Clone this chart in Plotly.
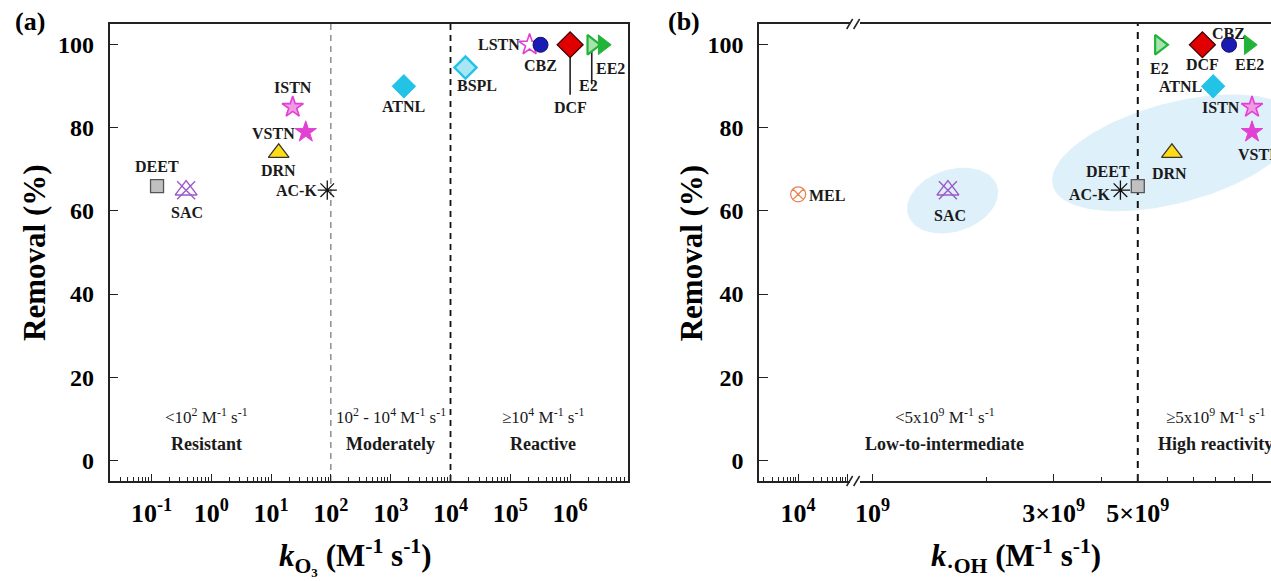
import numpy as np
import plotly.graph_objects as go

W, H = 1271, 581
FONT = "Liberation Serif"
INK = "#1a1a1a"

# ---------------- data ----------------
# panel (a): removal vs. second-order rate constant with ozone
a_names = ["DEET", "SAC", "DRN", "ISTN", "VSTN", "AC-K", "ATNL", "BSPL", "LSTN", "CBZ", "DCF", "E2", "EE2"]
a_k = [0.124, 0.38, 13.4, 23, 38, 87, 1.66e3, 1.78e4, 2.1e5, 3.2e5, 1.0e6, 2.3e6, 3.5e6]
a_removal = [66, 65, 74, 85, 79, 65, 90, 94.5, 100, 100, 100, 100, 100]

# panel (b): removal vs. second-order rate constant with hydroxyl radical
b_names = ["MEL", "SAC", "AC-K", "DEET", "DRN", "E2", "DCF", "CBZ", "EE2", "ATNL", "ISTN", "VSTN"]
b_k = [1.0e4, 1.58e9, 4.5e9, 5.0e9, 6.15e9, 5.7e9, 7.4e9, 8.7e9, 9.8e9, 7.9e9, 1.0e10, 1.0e10]
b_removal = [64, 65, 65, 66, 74, 100, 100, 100, 100, 90, 85, 79]

# reactivity class boundaries
a_bounds = [1e2, 1e4]
b_bounds = [5e9]

# tick labels
a_tickvals = [1e-1, 1e0, 1e1, 1e2, 1e3, 1e4, 1e5, 1e6]
a_ticktext = ["10<sup>-1</sup>", "10<sup>0</sup>", "10<sup>1</sup>", "10<sup>2</sup>",
              "10<sup>3</sup>", "10<sup>4</sup>", "10<sup>5</sup>", "10<sup>6</sup>"]
b1_tickvals = [1e4, 1e5]
b1_ticktext = ["10<sup>4</sup>", ""]
b2_tickvals = [1e9, 3e9, 5e9, 1e10]
b2_ticktext = ["10<sup>9</sup>", "3×10<sup>9</sup>", "5×10<sup>9</sup>", "10<sup>10</sup>"]
y_tickvals = [0, 20, 40, 60, 80, 100]

# class captions: (centre log10 k, upper line, lower line)
a_classes = [
    (-0.08, "&lt;10<sup>2</sup> M<sup>-1</sup> s<sup>-1</sup>", "Resistant"),
    (3.0, "10<sup>2</sup> - 10<sup>4</sup> M<sup>-1</sup> s<sup>-1</sup>", "Moderately"),
    (5.55, "≥10<sup>4</sup> M<sup>-1</sup> s<sup>-1</sup>", "Reactive"),
]
b_classes = [
    (9.19, "&lt;5x10<sup>9</sup> M<sup>-1</sup> s<sup>-1</sup>", "Low-to-intermediate"),
    (9.905, "≥5x10<sup>9</sup> M<sup>-1</sup> s<sup>-1</sup>", "High reactivity"),
]

# ---------------- marker styles ----------------
PURPLE = "#9b59c8"
MAGENTA = "#e23fd3"
CYAN = "#22c3e6"
GREEN = "#22b43a"
styles = {
    "DEET": [dict(symbol="square", size=13, color="#c0c0c0", line=dict(color="#555555", width=1.3))],
    "SAC": [dict(symbol="triangle-up-open", size=19, color=PURPLE, line=dict(color=PURPLE, width=1.4)),
            dict(symbol="x-thin-open", size=18, color=PURPLE, line=dict(color=PURPLE, width=1.4))],
    "DRN": [dict(symbol="triangle-up", size=18, color="#ffdc14", line=dict(color="#333333", width=1.2))],
    "ISTN": [dict(symbol="star", size=16, color="#f09ae6", line=dict(color=MAGENTA, width=1.6))],
    "VSTN": [dict(symbol="star", size=16, color=MAGENTA, line=dict(color=MAGENTA, width=1))],
    "LSTN": [dict(symbol="star-open", size=16, color=MAGENTA, line=dict(color=MAGENTA, width=1.6))],
    "AC-K": [dict(symbol="asterisk-open", size=16, color="#111111", line=dict(color="#111111", width=1.3))],
    "ATNL": [dict(symbol="diamond", size=18, color=CYAN, line=dict(color=CYAN, width=1))],
    "BSPL": [dict(symbol="diamond", size=17, color="#a9e6f5", line=dict(color=CYAN, width=2.4))],
    "CBZ": [dict(symbol="circle", size=15, color="#1a1ab4", line=dict(color="#10106a", width=1))],
    "DCF": [dict(symbol="diamond", size=20, color="#e00000", line=dict(color="#400000", width=1.2))],
    "E2": [dict(symbol="triangle-right", size=17, color="#a8e2ae", line=dict(color=GREEN, width=2.2))],
    "EE2": [dict(symbol="triangle-right", size=17, color=GREEN, line=dict(color=GREEN, width=1))],
    "MEL": [dict(symbol="circle-x-open", size=15, color="#e8834f", line=dict(color="#e8834f", width=1.3))],
}

# label placement: (xshift px, yshift px, xanchor)
a_label_pos = {
    "DEET": (0, 20, "center"), "SAC": (1, -22, "center"), "DRN": (0, -18, "center"),
    "ISTN": (0, 20, "center"), "VSTN": (-9, -1, "right"), "AC-K": (-8, 0, "right"),
    "ATNL": (0, -20, "center"), "BSPL": (12, -18, "center"), "LSTN": (-8, 0, "right"),
    "CBZ": (0, -21, "center"), "DCF": (0, -63, "center"), "E2": (-3, -41, "center"),
    "EE2": (8, -24, "center"),
}
b_label_pos = {
    "MEL": (9, -1, "left"), "SAC": (2, -25, "center"), "AC-K": (-8, -4, "right"),
    "DEET": (-30, 15, "center"), "DRN": (-2, -21, "center"), "E2": (0, -24, "center"),
    "DCF": (0, -20, "center"), "CBZ": (-1, 11, "center"), "EE2": (1, -20, "center"),
    "ATNL": (-9, 0, "right"), "ISTN": (-10, 0, "right"), "VSTN": (7, -22, "center"),
}
# leader lines under the crowded high-k markers in panel (a): (name, lower end of line)
a_leaders = [("DCF", 88), ("E2", 90.5)]

# highlight ellipses in panel (b): centre log10 k, centre removal, semi-axes (px), tilt (deg)
b_ellipses = [
    dict(cx=9.211, cy=62.5, a=47, b=31, tilt=18),
    dict(cx=9.797, cy=74.0, a=127, b=50, tilt=15),
]

# ---------------- geometry ----------------
A_X = (105, 625)
B1_X = (757, 848)
B2_X = (858, W)
Y_PIX = (24, 481)
Y_RANGE = [-5, 105]
A_RANGE = [-1.70, 6.96]
B1_RANGE = [3.21, 5.04]
B2_RANGE = [8.966, 10.05]


def xdom(p):
    return [p[0] / W, p[1] / W]


ydom = [(H - Y_PIX[1]) / H, (H - Y_PIX[0]) / H]
px_per_y = (Y_PIX[1] - Y_PIX[0]) / (Y_RANGE[1] - Y_RANGE[0])
px_per_dec_b2 = (B2_X[1] - B2_X[0]) / (B2_RANGE[1] - B2_RANGE[0])


def minor_vals(lo, hi):
    vals = []
    for e in range(int(np.floor(lo)) - 1, int(np.ceil(hi)) + 1):
        for m in range(2, 10):
            v = m * 10.0 ** e
            if lo <= np.log10(v) <= hi:
                vals.append(v)
    return vals


fig = go.Figure()

# ellipses (behind everything)
for e in b_ellipses:
    t = np.linspace(0, 2 * np.pi, 121)
    th = np.radians(e["tilt"])
    u, v = e["a"] * np.cos(t), e["b"] * np.sin(t)
    ur = u * np.cos(th) - v * np.sin(th)
    vr = u * np.sin(th) + v * np.cos(th)
    fig.add_trace(go.Scatter(
        x=10 ** (e["cx"] + ur / px_per_dec_b2), y=e["cy"] + vr / px_per_y,
        mode="lines", fill="toself", fillcolor="rgba(190,225,246,0.5)",
        line=dict(width=0), hoverinfo="skip", xaxis="x3", yaxis="y2"))

# class boundaries
for i, xb in enumerate(a_bounds):
    fig.add_trace(go.Scatter(
        x=[xb, xb], y=Y_RANGE, mode="lines",
        line=dict(color="#555555" if i == 0 else "#111111", width=1.0 if i == 0 else 1.8, dash="6px,5px"),
        hoverinfo="skip", xaxis="x", yaxis="y"))
for xb in b_bounds:
    fig.add_trace(go.Scatter(
        x=[xb, xb], y=Y_RANGE, mode="lines",
        line=dict(color="#111111", width=2.0, dash="7px,6px"),
        hoverinfo="skip", xaxis="x3", yaxis="y2"))

# leader lines
for name, y_end in a_leaders:
    i = a_names.index(name)
    fig.add_trace(go.Scatter(
        x=[a_k[i], a_k[i]], y=[a_removal[i], y_end], mode="lines",
        line=dict(color="#222222", width=1.6), hoverinfo="skip", xaxis="x", yaxis="y"))


def add_markers(names, ks, rem, xaxis, yaxis):
    for n, k, r in zip(names, ks, rem):
        for st in styles[n]:
            fig.add_trace(go.Scatter(
                x=[k], y=[r], mode="markers", marker=st, name=n,
                xaxis=xaxis, yaxis=yaxis, cliponaxis=False))


add_markers(a_names, a_k, a_removal, "x", "y")
b_seg2 = [i for i, k in enumerate(b_k) if k >= 1e8]
b_seg1 = [i for i, k in enumerate(b_k) if k < 1e8]
add_markers([b_names[i] for i in b_seg1], [b_k[i] for i in b_seg1], [b_removal[i] for i in b_seg1], "x2", "y2")
add_markers([b_names[i] for i in b_seg2], [b_k[i] for i in b_seg2], [b_removal[i] for i in b_seg2], "x3", "y2")

annotations = []
label_font = dict(family=FONT, size=16, color=INK, weight="bold")


def add_labels(names, ks, rem, pos, xref, yref):
    for n, k, r in zip(names, ks, rem):
        dx, dy, anc = pos[n]
        annotations.append(dict(
            x=np.log10(k), y=r, xref=xref, yref=yref, text=n, showarrow=False,
            xshift=dx, yshift=dy, xanchor=anc, yanchor="middle", font=label_font))


add_labels(a_names, a_k, a_removal, a_label_pos, "x", "y")
add_labels([b_names[i] for i in b_seg1], [b_k[i] for i in b_seg1], [b_removal[i] for i in b_seg1],
           b_label_pos, "x2", "y2")
add_labels([b_names[i] for i in b_seg2], [b_k[i] for i in b_seg2], [b_removal[i] for i in b_seg2],
           b_label_pos, "x3", "y2")

# class captions
for classes, xref in ((a_classes, "x"), (b_classes, "x3")):
    for cx, top, bottom in classes:
        annotations.append(dict(x=cx, y=10.6, xref=xref, yref="y" if xref == "x" else "y2",
                                text=top, showarrow=False, yanchor="middle",
                                font=dict(family=FONT, size=17, color=INK)))
        annotations.append(dict(x=cx, y=3.8, xref=xref, yref="y" if xref == "x" else "y2",
                                text=bottom, showarrow=False, yanchor="middle",
                                font=dict(family=FONT, size=18, color=INK, weight="bold")))

# panel letters and axis titles
title_font = dict(family=FONT, size=31, color="#000000", weight="bold")
annotations += [
    dict(x=8 / W, y=1 - 22 / H, xref="paper", yref="paper", text="(a)", showarrow=False,
         xanchor="left", yanchor="middle", font=dict(family=FONT, size=26, color="#000", weight="bold")),
    dict(x=664 / W, y=1 - 22 / H, xref="paper", yref="paper", text="(b)", showarrow=False,
         xanchor="left", yanchor="middle", font=dict(family=FONT, size=26, color="#000", weight="bold")),
    dict(x=352 / W, y=1 - 556 / H, xref="paper", yref="paper",
         text="<i>k</i><sub>O₃</sub> (M<sup>-1</sup> s<sup>-1</sup>)", showarrow=False,
         xanchor="center", yanchor="middle", font=title_font),
    dict(x=1015 / W, y=1 - 556 / H, xref="paper", yref="paper",
         text="<i>k</i><sub>·OH</sub> (M<sup>-1</sup> s<sup>-1</sup>)", showarrow=False,
         xanchor="center", yanchor="middle", font=title_font),
    dict(x=30 / W, y=1 - 253 / H, xref="paper", yref="paper", text="Removal (%)", textangle=-90,
         showarrow=False, xanchor="center", yanchor="middle", font=title_font),
    dict(x=690 / W, y=1 - 253 / H, xref="paper", yref="paper", text="Removal (%)", textangle=-90,
         showarrow=False, xanchor="center", yanchor="middle", font=title_font),
]

# axis-break marks on the bottom and top edges of panel (b)
shapes = []
for yp in (Y_PIX[1], Y_PIX[0]):
    for x0 in (845, 852):
        shapes.append(dict(type="line", xref="paper", yref="paper",
                           x0=x0 / W, x1=(x0 + 6) / W, y0=1 - (yp + 5) / H, y1=1 - (yp - 5) / H,
                           line=dict(color="#222222", width=1.5)))

tickfont_x = dict(family=FONT, size=26, color="#000000", weight="bold")
tickfont_y = dict(family=FONT, size=24, color="#000000", weight="bold")
axis_common = dict(showline=True, linecolor="#222222", linewidth=1.5, showgrid=False,
                   zeroline=False, ticks="inside", tickcolor="#222222", tickwidth=1.3)

fig.update_layout(
    width=W, height=H, margin=dict(l=0, r=0, t=0, b=0),
    paper_bgcolor="white", plot_bgcolor="white", showlegend=False,
    xaxis=dict(**axis_common, type="log", domain=xdom(A_X), range=A_RANGE, anchor="y",
               mirror=True, ticklen=7, tickmode="array", tickvals=a_tickvals, ticktext=a_ticktext,
               tickfont=tickfont_x, ticklabelstandoff=8,
               minor=dict(ticks="inside", ticklen=4, tickcolor="#222222", tickwidth=1,
                          tickmode="array", tickvals=minor_vals(*A_RANGE))),
    yaxis=dict(**axis_common, domain=ydom, range=Y_RANGE, anchor="x", mirror=True, ticklen=9,
               tickmode="array", tickvals=y_tickvals, tickfont=tickfont_y, ticklabelstandoff=9),
    xaxis2=dict(**axis_common, type="log", domain=xdom(B1_X), range=B1_RANGE, anchor="y2",
                mirror=True, ticklen=7, tickmode="array", tickvals=b1_tickvals, ticktext=b1_ticktext,
                tickfont=tickfont_x, ticklabelstandoff=8,
                minor=dict(ticks="inside", ticklen=4, tickcolor="#222222", tickwidth=1,
                           tickmode="array", tickvals=minor_vals(*B1_RANGE))),
    xaxis3=dict(**axis_common, type="log", domain=xdom(B2_X), range=B2_RANGE, anchor="y2",
                mirror=True, ticklen=7, tickmode="array", tickvals=b2_tickvals, ticktext=b2_ticktext,
                tickfont=tickfont_x, ticklabelstandoff=8,
                minor=dict(ticks="inside", ticklen=4, tickcolor="#222222", tickwidth=1,
                           tickmode="array", tickvals=minor_vals(*B2_RANGE))),
    yaxis2=dict(**axis_common, domain=ydom, range=Y_RANGE, anchor="x2", mirror=False, ticklen=9,
                tickmode="array", tickvals=y_tickvals, tickfont=tickfont_y, ticklabelstandoff=9),
    annotations=annotations,
    shapes=shapes,
)

fig.write_html("out.html")
